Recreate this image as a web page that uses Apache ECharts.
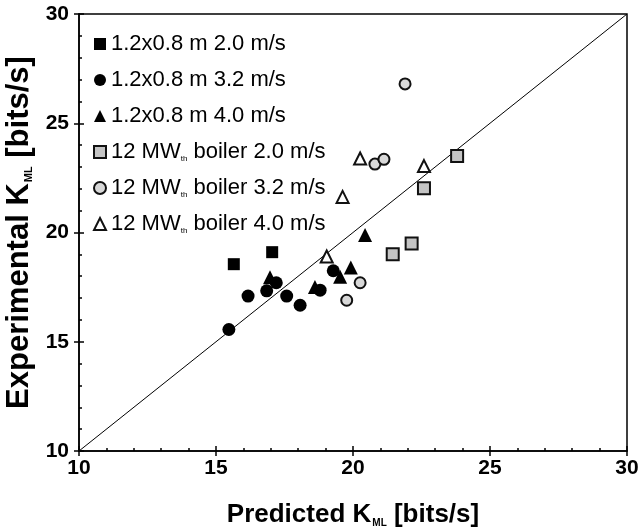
<!DOCTYPE html>
<html>
<head>
<meta charset="utf-8">
<script src="https://cdn.jsdelivr.net/npm/echarts@6/dist/echarts.min.js"></script>
<style>html,body{margin:0;padding:0;background:#fff}#c{width:638px;height:532px}</style>
</head>
<body>
<div id="c"></div>
<script>
var seriesNames = [
  '1.2x0.8 m 2.0 m/s',
  '1.2x0.8 m 3.2 m/s',
  '1.2x0.8 m 4.0 m/s',
  '12 MW{sub|th} boiler 2.0 m/s',
  '12 MW{sub|th} boiler 3.2 m/s',
  '12 MW{sub|th} boiler 4.0 m/s'
];
var s1 = [[15.65,18.55],[17.05,19.1]];
var s2 = [[15.47,15.56],[16.17,17.09],[16.85,17.33],[17.2,17.7],[17.58,17.09],[18.07,16.67],[18.8,17.36],[19.28,18.25]];
var s3 = [[16.97,17.95],[18.61,17.51],[19.53,17.97],[19.92,18.4],[20.44,19.88]];
var s4 = [[21.45,19.01],[22.14,19.5],[22.59,22.02],[23.8,23.5]];
var s5 = [[19.77,16.9],[20.26,17.7],[20.8,23.13],[21.13,23.35],[21.9,26.8]];
var s6 = [[19.04,18.9],[19.62,21.63],[20.26,23.39],[22.59,23.04]];
var parityLine = [[10,10],[30,30]];
var xTicks = [10,15,20,25,30];
var yTicks = [10,15,20,25,30];

var FONT = 'Liberation Sans, Arial, sans-serif';
var chart = echarts.init(document.getElementById('c'));
var base = {min:10, max:30, interval:5};
function mkScatter(i, data, symbol, size, fill, border, bw){
  return {type:'scatter', name: seriesNames[i], data: data, symbol: symbol, symbolSize: size,
    itemStyle:{color: fill, borderColor: border, borderWidth: bw, opacity:1}, z: 5};
}
chart.setOption({
  animation:false,
  backgroundColor:'#fff',
  grid:{left:79, right:11, top:14, bottom:81, outerBoundsMode:'none', containLabel:false,
    show:true, borderColor:'#000', borderWidth:1.5, backgroundColor:'transparent'},
  legend:{orient:'vertical', left:88, top:28, itemWidth:12, itemHeight:12, itemGap:14,
    textStyle:{fontFamily:FONT, fontSize:22, color:'#000', lineHeight:21,
      rich:{sub:{fontSize:8, lineHeight:13, verticalAlign:'bottom', fontFamily:FONT}}},
    data: seriesNames, inactiveColor:'#000', selectedMode:false},
  xAxis:[
    Object.assign({type:'value', position:'bottom',
      axisLine:{lineStyle:{color:'#000', width:1.5}},
      axisTick:{inside:true, length:5, lineStyle:{color:'#000', width:1.5}},
      minorTick:{show:true, splitNumber:5, length:3, lineStyle:{color:'#000', width:1.5}},
      splitLine:{show:false},
      axisLabel:{fontFamily:FONT, fontSize:21, fontWeight:'bold', color:'#000', margin:7,
        formatter:function(v){return xTicks.indexOf(v)>=0?String(v):'';}},
      name:'Predicted K{sub|ML} [bits/s]', nameLocation:'middle', nameGap:51,
      nameTextStyle:{fontFamily:FONT, fontSize:26, fontWeight:'bold', color:'#000',
        rich:{sub:{fontSize:10, fontWeight:'bold', verticalAlign:'bottom', padding:[12,0,0,1], fontFamily:FONT}}}
    }, base),
    Object.assign({type:'value', position:'bottom',
      axisLine:{show:false}, axisTick:{inside:false, length:5, lineStyle:{color:'#000', width:1.5}},
      axisLabel:{show:false}, splitLine:{show:false}}, base)
  ],
  yAxis:[
    Object.assign({type:'value', position:'left',
      axisLine:{lineStyle:{color:'#000', width:1.5}},
      axisTick:{inside:true, length:5, lineStyle:{color:'#000', width:1.5}},
      minorTick:{show:true, splitNumber:5, length:3, lineStyle:{color:'#000', width:1.5}},
      splitLine:{show:false},
      axisLabel:{fontFamily:FONT, fontSize:21, fontWeight:'bold', color:'#000', margin:10,
        formatter:function(v){return yTicks.indexOf(v)>=0?String(v):'';}},
      name:'Experimental K{sub|ML} [bits/s]', nameLocation:'middle', nameGap:42, nameRotate:90,
      nameTextStyle:{fontFamily:FONT, fontSize:31, fontWeight:'bold', color:'#000',
        rich:{sub:{fontSize:11, fontWeight:'bold', verticalAlign:'bottom', padding:[14,0,0,1], fontFamily:FONT}}}
    }, base),
    Object.assign({type:'value', position:'left',
      axisLine:{show:false}, axisTick:{inside:false, length:5, lineStyle:{color:'#000', width:1.5}},
      axisLabel:{show:false}, splitLine:{show:false}}, base)
  ],
  series:[
    {type:'line', data: parityLine, symbol:'none', lineStyle:{color:'#000', width:1}, z:2, silent:true},
    mkScatter(0, s1, 'rect', 12, '#000', '#000', 0),
    mkScatter(1, s2, 'circle', 13, '#000', '#000', 0),
    mkScatter(2, s3, 'triangle', 14, '#000', '#000', 0),
    mkScatter(3, s4, 'rect', 12, '#c4c4c4', '#111', 2),
    mkScatter(4, s5, 'circle', 11, '#d8d8d8', '#111', 2),
    mkScatter(5, s6, 'triangle', 12, '#fff', '#111', 2)
  ]
});
</script>
</body>
</html>
